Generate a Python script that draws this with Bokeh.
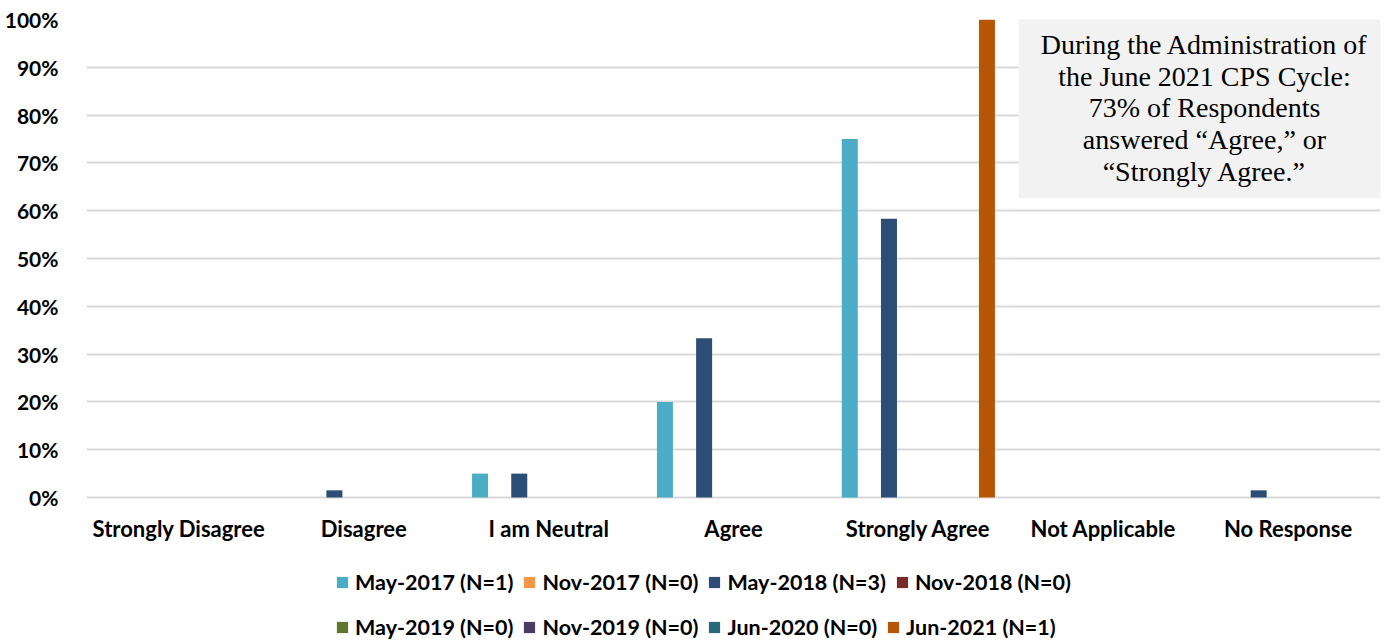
from bokeh.plotting import figure
from bokeh.models import (Range1d, NumeralTickFormatter, FixedTicker, Legend, LegendItem,
                          BoxAnnotation, Label)
from bokeh.core.properties import value
from bokeh.transform import dodge
from bokeh.embed import file_html
from bokeh.resources import INLINE

categories = ["Strongly Disagree", "Disagree", "I am Neutral", "Agree",
              "Strongly Agree", "Not Applicable", "No Response"]
series_names = ["May-2017 (N=1)", "Nov-2017 (N=0)", "May-2018 (N=3)", "Nov-2018 (N=0)",
                "May-2019 (N=0)", "Nov-2019 (N=0)", "Jun-2020 (N=0)", "Jun-2021 (N=1)"]
may_2017 = [0, 0, 0.05, 0.20, 0.75, 0, 0]
nov_2017 = [0, 0, 0, 0, 0, 0, 0]
may_2018 = [0, 0.015, 0.05, 0.333, 0.583, 0, 0.015]
nov_2018 = [0, 0, 0, 0, 0, 0, 0]
may_2019 = [0, 0, 0, 0, 0, 0, 0]
nov_2019 = [0, 0, 0, 0, 0, 0, 0]
jun_2020 = [0, 0, 0, 0, 0, 0, 0]
jun_2021 = [0, 0, 0, 0, 1.0, 0, 0]
series_values = [may_2017, nov_2017, may_2018, nov_2018, may_2019, nov_2019, jun_2020, jun_2021]
colors = ["#4bacc6", "#f79646", "#2c4d75", "#772c2a", "#5f7530", "#4d3b62", "#276a7c", "#b65708"]
y_ticks = [i / 10 for i in range(11)]
note = ("During the Administration of\nthe June 2021 CPS Cycle:\n73% of Respondents\n"
        "answered \u201cAgree,\u201d or\n\u201cStrongly Agree.\u201d")

FONT = "Lato"

# layout geometry (pixels)
W, H = 1384, 640
LEFT, RIGHT, TOP = 86, 4, 19
ZERO_Y = 497          # pixel row of the 0% line
PLOT_PX = ZERO_Y - TOP  # pixels for 0..100%
y_start = -(H - ZERO_Y) / PLOT_PX

p = figure(width=W, height=H, x_range=categories, y_range=Range1d(y_start, 1),
           output_backend="svg", toolbar_location=None,
           min_border_left=LEFT, min_border_right=RIGHT, min_border_top=TOP, min_border_bottom=0)
p.outline_line_color = None
p.background_fill_color = "white"

data = {"cat": categories}
for i, vals in enumerate(series_values):
    data[f"s{i}"] = vals

renderers = []
slot = 0.106
for i, name in enumerate(series_names):
    r = p.vbar(x=dodge("cat", (i - 3.5) * slot, range=p.x_range), top=f"s{i}", bottom=0,
               width=0.0866, source=data, fill_color=colors[i], line_color=None)
    renderers.append(r)

# category labels under the 0% line
p.text(x=categories, y=[0] * len(categories), text=categories, y_offset=31,
       text_align="center", text_baseline="middle", text_font=value(FONT),
       text_font_style="bold", text_font_size="22px", text_color="black")

p.xaxis.visible = False
p.yaxis.ticker = FixedTicker(ticks=y_ticks)
p.yaxis.formatter = NumeralTickFormatter(format="0%")
p.yaxis.axis_line_color = None
p.yaxis.major_tick_line_color = None
p.yaxis.minor_tick_line_color = None
p.yaxis.major_label_text_font = FONT
p.yaxis.major_label_text_font_style = "bold"
p.yaxis.major_label_text_font_size = "21px"
p.yaxis.major_label_text_color = "black"
p.yaxis.major_label_standoff = 22

p.xgrid.grid_line_color = None
p.ygrid.ticker = FixedTicker(ticks=y_ticks)
p.ygrid.grid_line_color = "#d9d9d9"
p.ygrid.grid_line_width = 2

# annotation box
p.add_layout(BoxAnnotation(left=5.042, right=7.03, top=1.003, bottom=0.626,
                           fill_color="#f2f2f2", fill_alpha=1.0, line_color=None,
                           level="overlay"))
p.add_layout(Label(x=6.048, y=0.815, text=note, text_align="center", text_baseline="middle",
                   text_font="Liberation Serif", text_font_size="28px", text_color="black",
                   text_line_height=1.02, level="overlay"))

def make_legend(idx, loc):
    items = [LegendItem(label=series_names[i], renderers=[renderers[i]]) for i in idx]
    lg = Legend(items=items, orientation="horizontal", location=loc,
                label_text_font=FONT, label_text_font_style="bold", label_text_font_size="21.5px",
                label_text_color="black", glyph_width=14, glyph_height=14, label_standoff=6,
                spacing=9, padding=0, margin=0, border_line_color=None,
                background_fill_alpha=0, label_height=20)
    return lg

lg1 = make_legend([0, 1, 2, 3], (249, 45))
lg2 = make_legend([4, 5, 6, 7], (249, 0))
p.add_layout(lg1, "center")
p.add_layout(lg2, "center")

open("out.html", "w").write(file_html(p, INLINE))
